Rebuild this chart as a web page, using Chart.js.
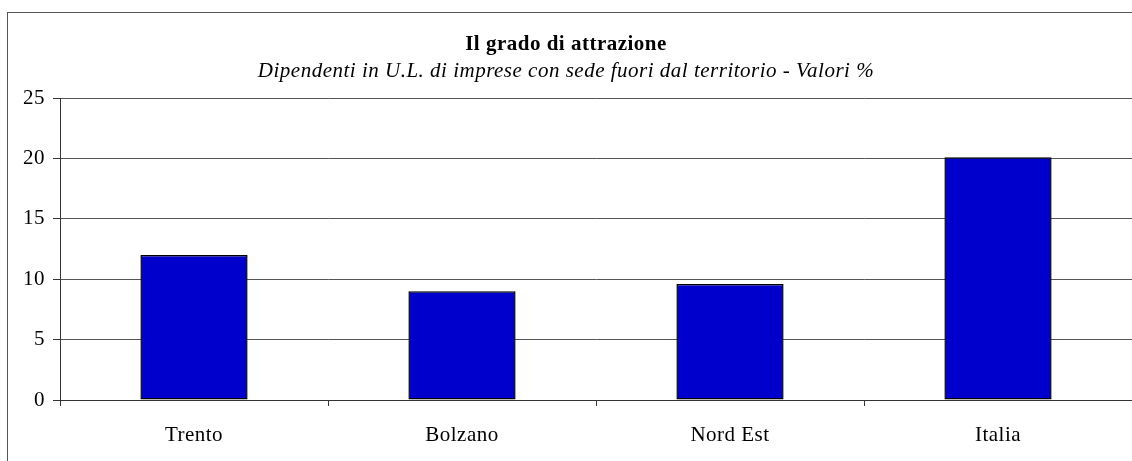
<!DOCTYPE html>
<html>
<head>
<meta charset="utf-8">
<script src="https://cdn.jsdelivr.net/npm/chart.js@4.4.1/dist/chart.umd.min.js"></script>
<style>
  html, body { margin: 0; padding: 0; background: #fff; overflow: hidden; }
  #box { position: relative; width: 1132px; height: 461px; }
</style>
</head>
<body>
<div id="box"><canvas id="myChart" width="1132" height="461"></canvas></div>
<script>
// dati del grafico
var categorie = ["Trento", "Bolzano", "Nord Est", "Italia"];
var valori = [12.0, 9.0, 9.6, 20.1];
var yTicks = [0, 5, 10, 15, 20, 25];

var titolo = "Il grado di attrazione";
var sottotitolo = "Dipendenti in U.L. di imprese con sede fuori dal territorio - Valori %";

var fontSerif = "'Liberation Serif', 'Times New Roman', serif";

// cornice esterna (tagliata a destra e in basso come nell'originale)
// + un filo di spaziatura fra le lettere per avvicinarsi al Palatino
var cornice = {
  id: "cornice",
  beforeDraw: function(chart) {
    var ctx = chart.ctx;
    ctx.save();
    ctx.strokeStyle = "#555";
    ctx.lineWidth = 1;
    ctx.strokeRect(7.5, 12.5, 1300, 600);
    ctx.restore();
    ctx.letterSpacing = "0.5px";
  }
};

var ctx = document.getElementById("myChart");
var myChart = new Chart(ctx, {
  type: "bar",
  data: {
    labels: categorie,
    datasets: [{
      data: valori,
      backgroundColor: "#0000cc",
      borderColor: "#000",
      borderWidth: 1.5,
      borderSkipped: false,
      barPercentage: 0.4,
      categoryPercentage: 1.0
    }]
  },
  options: {
    responsive: false,
    animation: false,
    layout: { padding: { left: 0, right: 0, top: 0, bottom: 0 } },
    plugins: {
      legend: { display: false },
      tooltip: { enabled: false },
      title: {
        display: true,
        text: titolo,
        color: "#000",
        font: { family: fontSerif, size: 21, weight: "bold", lineHeight: 1.2 },
        padding: { top: 32, bottom: 1.8 }
      },
      subtitle: {
        display: true,
        text: sottotitolo,
        color: "#000",
        font: { family: fontSerif, size: 21, style: "italic", lineHeight: 1.2 },
        padding: { top: 0, bottom: 13.8 }
      }
    },
    scales: {
      x: {
        offset: true,
        grid: {
          offset: true,
          drawOnChartArea: false,
          drawTicks: true,
          tickLength: 6,
          tickColor: "#333"
        },
        border: { display: true, color: "#333", width: 1 },
        ticks: {
          color: "#000",
          padding: 17,
          font: { family: fontSerif, size: 21 }
        },
        afterFit: function(scale) { scale.height = 61; }
      },
      y: {
        min: 0,
        max: 25,
        afterBuildTicks: function(scale) {
          scale.ticks = yTicks.map(function(v) { return { value: v }; });
        },
        grid: {
          color: "#555",
          lineWidth: 1,
          tickLength: 7,
          tickColor: "#333"
        },
        border: { display: true, color: "#333", width: 1 },
        ticks: {
          color: "#000",
          padding: 8,
          font: { family: fontSerif, size: 21 }
        },
        afterFit: function(scale) { scale.width = 60; }
      }
    }
  },
  plugins: [cornice]
});
</script>
</body>
</html>
